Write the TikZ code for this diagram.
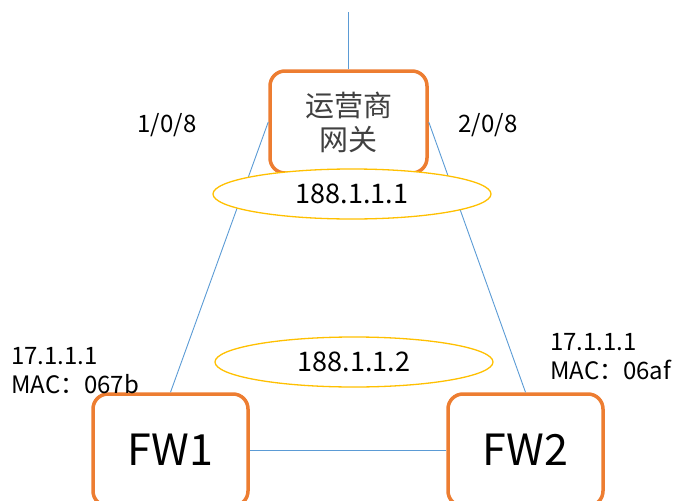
\documentclass[tikz,border=0pt]{standalone}
\usepackage{fontspec}
\setmainfont{Noto Sans CJK SC}
\usetikzlibrary{shapes.geometric}
\definecolor{boxorange}{HTML}{ED7D31}
\definecolor{linkblue}{HTML}{5B9BD5}
\definecolor{ellyellow}{HTML}{FFC000}
\tikzset{
  devbox/.style={draw=boxorange, line width=3.5pt, rounded corners=15pt, fill=white, inner sep=0pt},
  link/.style={draw=linkblue, line width=0.9pt},
  ipell/.style={ellipse, draw=ellyellow, line width=1.3pt, fill=white, minimum width=278pt, minimum height=50pt, inner sep=0pt, font=\fontsize{27}{30}\selectfont},
  lbl/.style={inner sep=0pt, font=\fontsize{24}{29.5}\selectfont, align=left}
}
\begin{document}
\begin{tikzpicture}[x=1pt,y=-1pt]
\useasboundingbox (0,0) rectangle (681,501);
\clip (0,0) rectangle (681,501);
\node[devbox, minimum width=157pt, minimum height=102pt, text=black!75, align=center, font=\fontsize{29}{34}\selectfont] (gw) at (348.5,122) {运营商\\网关};
\node[devbox, minimum width=155pt, minimum height=112pt, font=\fontsize{43}{50}\selectfont] (fw1) at (170.5,450) {FW1};
\node[devbox, minimum width=155pt, minimum height=112pt, font=\fontsize{43}{50}\selectfont] (fw2) at (525.5,450) {FW2};
\coordinate (top) at (348.5,12);
\draw[link] (top) -- (gw.north);
\draw[link] (gw.west) -- (fw1.north);
\draw[link] (gw.east) -- (fw2.north);
\draw[link] (fw1.east) -- (fw2.west);
\node[ipell] (e1) at (352,194) {188.1.1.1};
\node[ipell] (e2) at (354,362) {188.1.1.2};
\node[lbl] (p1) at (167,125) {1/0/8};
\node[lbl] (p2) at (488,125) {2/0/8};
\node[lbl, anchor=north west] (l1) at (11,347) {17.1.1.1\\MAC：067b};
\node[lbl, anchor=north west] (l2) at (550,333) {17.1.1.1\\MAC：06af};
\end{tikzpicture}
\end{document}
